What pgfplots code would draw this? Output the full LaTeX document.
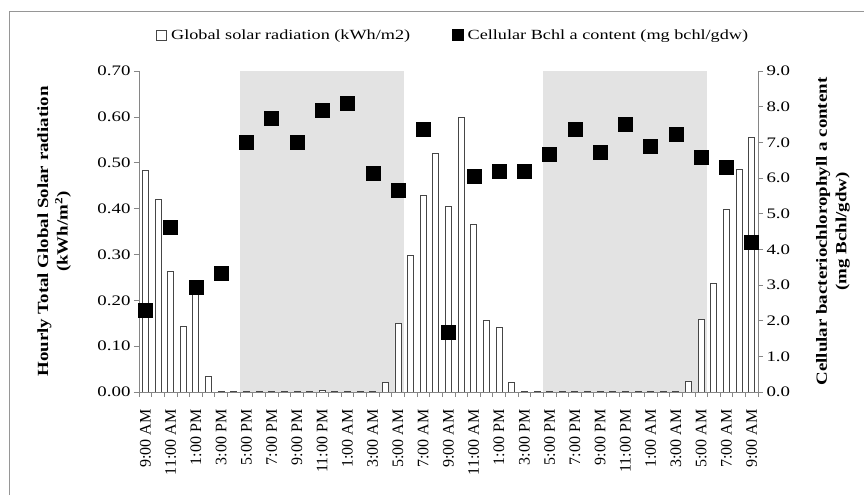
\documentclass[border=0pt]{standalone}
\usepackage{fontspec}
\usepackage{pgfplots}
\pgfplotsset{compat=1.18}
\setmainfont{Liberation Serif}[FakeStretch=1.3]
\newfontfamily\rotfont{Liberation Serif}[FakeStretch=1.0]
\newfontfamily\titlefont{Liberation Serif}[FakeStretch=1.22]
\definecolor{axisgray}{RGB}{134,134,134}
\definecolor{nightgray}{RGB}{227,227,227}
\definecolor{framegray}{RGB}{150,150,150}
\definecolor{bardraw}{RGB}{70,70,70}

\begin{document}
\begin{tikzpicture}
\useasboundingbox (0,0) rectangle (864pt,495pt);
% outer chart frame
\draw[framegray, line width=0.8pt] (9pt,0pt) -- (9pt,484pt) -- (864pt,484pt);

\pgfplotsset{
  commonaxis/.style={
    scale only axis, width=619pt, height=321pt,
    at={(139pt,103pt)}, anchor=south west,
    xmin=-0.5, xmax=48.5,
    tick align=outside,
    major tick length=5pt, minor tick length=5pt,
    every tick/.style={axisgray, line width=0.6pt},
    axis line style={axisgray, line width=0.8pt},
    /pgf/number format/assume math mode=true,
    tick label style={font=\fontsize{14.5}{16}\selectfont, black},
    label style={font=\titlefont\bfseries\fontsize{15.5}{19.5}\selectfont, align=center},
  }
}

% hourly global solar radiation (left axis)
\begin{axis}[commonaxis,
  axis x line*=bottom, axis y line*=left,
  ymin=0, ymax=0.7,
  ytick={0,0.1,...,0.7},
  yticklabel style={/pgf/number format/.cd, fixed, fixed zerofill, precision=2},
  xtick={0,2,...,48},
  major x tick style={draw=none},
  minor xtick={-0.5,0.5,...,48.5},
  xticklabels={9:00 AM,11:00 AM,1:00 PM,3:00 PM,5:00 PM,7:00 PM,9:00 PM,11:00 PM,1:00 AM,3:00 AM,5:00 AM,7:00 AM,9:00 AM,11:00 AM,1:00 PM,3:00 PM,5:00 PM,7:00 PM,9:00 PM,11:00 PM,1:00 AM,3:00 AM,5:00 AM,7:00 AM,9:00 AM},
  xticklabel style={rotate=90, anchor=east, font=\rotfont\fontsize{16}{18}\selectfont,
    execute at end node={\hspace{9pt}}},
  ylabel={Hourly Total Global Solar radiation\\(kWh/m\textsuperscript{2})},
  ylabel style={at={(axis description cs:-0.137,0.5)}, anchor=center},
]
% night periods
\fill[nightgray] (axis cs:7.5,0) rectangle (axis cs:20.5,0.7);
\fill[nightgray] (axis cs:31.5,0) rectangle (axis cs:44.5,0.7);
\addplot[ybar, bar width=6pt, fill=white, draw=bardraw, line width=0.8pt] coordinates {
(0,0.483) (1,0.421) (2,0.263) (3,0.144) (4,0.225) (5,0.035) (6,0.002) (7,0.002)
(8,0.002) (9,0.002) (10,0.002) (11,0.002) (12,0.002) (13,0.002) (14,0.004) (15,0.002)
(16,0.002) (17,0.002) (18,0.002) (19,0.020) (20,0.149) (21,0.297) (22,0.429) (23,0.521)
(24,0.405) (25,0.599) (26,0.365) (27,0.157) (28,0.141) (29,0.020) (30,0.002) (31,0.002)
(32,0.002) (33,0.002) (34,0.002) (35,0.002) (36,0.002) (37,0.002) (38,0.002) (39,0.002)
(40,0.002) (41,0.002) (42,0.002) (43,0.024) (44,0.159) (45,0.237) (46,0.399) (47,0.485)
(48,0.556)
};
\end{axis}

% cellular bacteriochlorophyll a content (right axis)
\begin{axis}[commonaxis,
  axis x line=none, axis y line*=right,
  ymin=0, ymax=9,
  ytick={0,1,...,9},
  yticklabel style={/pgf/number format/.cd, fixed, fixed zerofill, precision=1},
  ylabel={Cellular bacteriochlorophyll a content\\(mg Bchl/gdw)},
  ylabel style={at={(axis description cs:1.121,0.5)}, anchor=center},
  legend columns=2,
  legend style={at={(axis description cs:0.507,1.112)}, anchor=center,
    draw=none, fill=none, font=\fontsize{14}{16}\selectfont,
    /tikz/every even column/.append style={column sep=40pt}},
]
\addlegendimage{legend image code/.code={\draw[bardraw, fill=white, line width=0.8pt] (0pt,-5pt) rectangle (10pt,5pt); \path (13pt,0pt);}}
\addlegendentry{Global solar radiation (kWh/m2)}
\addplot[only marks, mark=square*, mark size=7pt, black,
  legend image code/.code={\fill[black] (0pt,-5.5pt) rectangle (11pt,5.5pt); \path (13pt,0pt);}] coordinates {
(0,2.28) (2,4.62) (4,2.94) (6,3.33) (8,6.99) (10,7.69) (12,6.99) (14,7.91)
(16,8.09) (18,6.13) (20,5.66) (22,7.36) (24,1.69) (26,6.06) (28,6.18) (30,6.18)
(32,6.66) (34,7.38) (36,6.72) (38,7.50) (40,6.90) (42,7.23) (44,6.57) (46,6.30)
(48,4.19)
};
\addlegendentry{Cellular Bchl a content (mg bchl/gdw)}
\end{axis}
\end{tikzpicture}
\end{document}
